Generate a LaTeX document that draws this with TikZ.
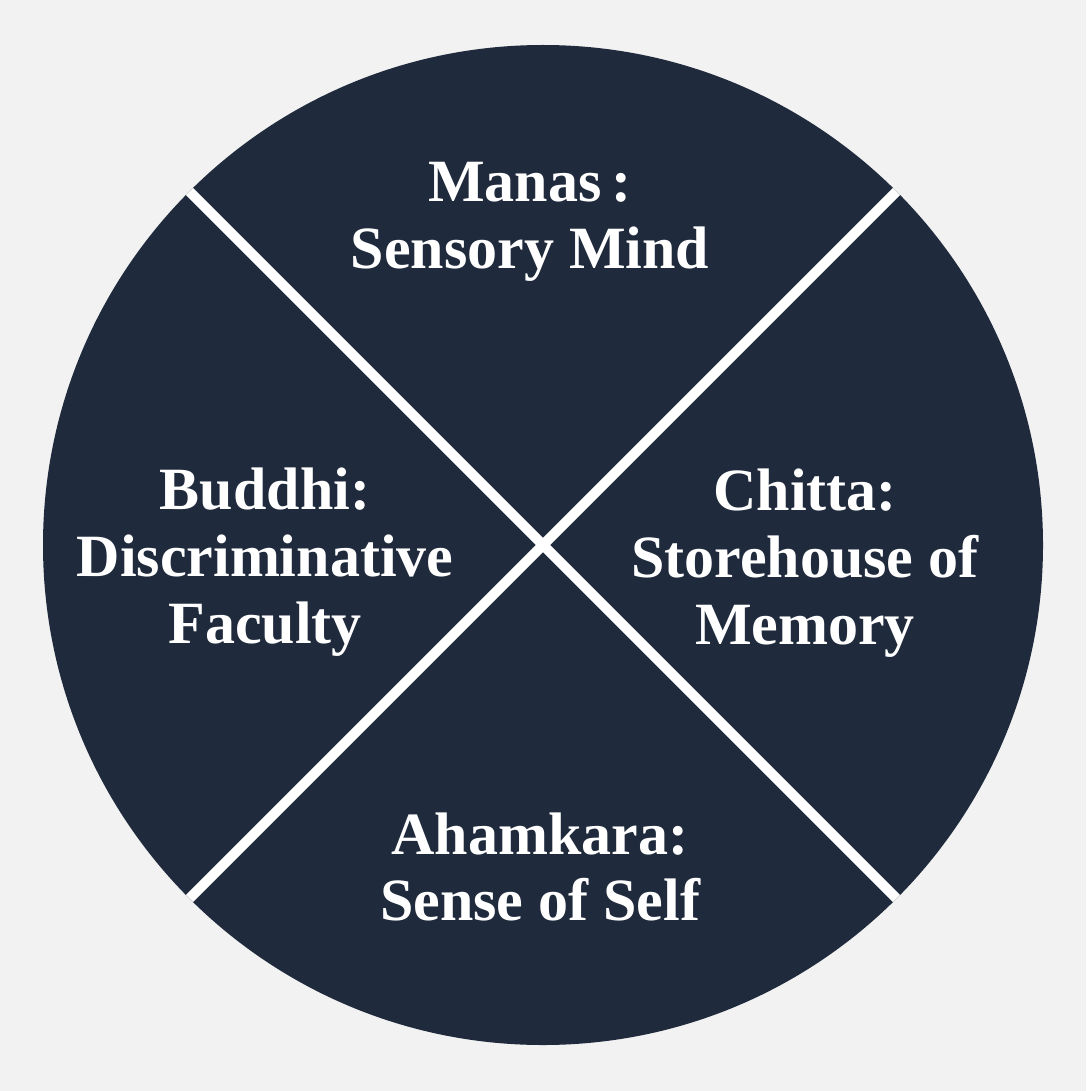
\documentclass[tikz,border=0pt]{standalone}
\usepackage{fontspec}
\setmainfont{Liberation Serif}
\begin{document}
\begin{tikzpicture}[x=0.75pt,y=-0.75pt,
  lab/.style={text=white,font=\bfseries\fontsize{45}{50}\selectfont,align=center}]
\fill[gray!10] (0,0) rectangle (1086,1091);
\useasboundingbox (0,0) rectangle (1086,1091);
\node[circle,fill={rgb,255:red,31;green,42;blue,60},minimum size=750pt,inner sep=0pt] (c) at (543,545) {};
\begin{scope}
\clip (543,545) circle (500);
\draw[white,line width=7.5pt] (543,545) ++(-400,-400) -- ++(800,800);
\draw[white,line width=7.5pt] (543,545) ++(400,-400) -- ++(-800,800);
\end{scope}
\node[lab] (m) at (530,222) {Manas\,:\\Sensory Mind};
\node[lab] (b) at (265,562) {Buddhi:\\Discriminative\\Faculty};
\node[lab] (ch) at (805,563) {Chitta:\\Storehouse of\\Memory};
\node[lab] (a) at (540,867) {Ahamkara:\\Sense of Self};
\end{tikzpicture}
\end{document}
